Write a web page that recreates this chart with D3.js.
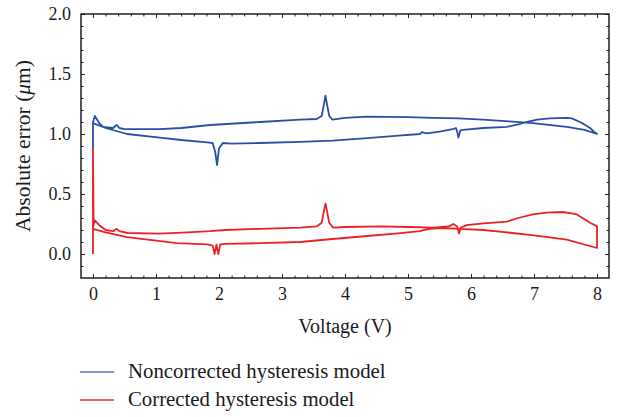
<!DOCTYPE html>
<html><head><meta charset="utf-8">
<script src="https://cdn.jsdelivr.net/npm/d3@7"></script>
<style>
body{margin:0;background:#fff}
svg text{font-family:"Liberation Serif","DejaVu Serif",serif;fill:#1a1a1a}
</style>
</head><body><svg id="chart" width="620" height="417"></svg>
<script>
// ---------- data ----------
const xTickValues = [0, 1, 2, 3, 4, 5, 6, 7, 8];
const yTickValues = [0.0, 0.5, 1.0, 1.5, 2.0];
const seriesNames = ["Noncorrected hysteresis model", "Corrected hysteresis model"];

// Noncorrected model: loop traced 0 V -> 8 V (upper branch) and back 8 V -> 0 V (lower branch)
const noncorrectedVoltage = [0,0,0.03,0.1,0.16,0.32,0.36,0.38,0.42,0.5,1.06,1.4,1.86,2.65,3.29,3.55,3.63,3.67,3.69,3.71,3.75,3.8,4.0,4.35,5.0,5.4,5.8,6.19,6.6,6.98,7.52,7.8,8.0,
  7.95,7.89,7.8,7.73,7.6,7.52,7.25,7.05,6.89,6.75,6.57,6.2,5.87,5.83,5.8,5.78,5.76,5.71,5.5,5.3,5.26,5.22,5.19,4.8,4.35,3.8,3.29,2.65,2.2,2.06,2.0,1.97,1.94,1.9,1.81,1.4,1.06,0.54,0.2,0.0];
const noncorrectedError = [0.87,1.1,1.15,1.09,1.06,1.05,1.07,1.075,1.05,1.04,1.04,1.05,1.075,1.10,1.12,1.125,1.15,1.26,1.32,1.26,1.15,1.12,1.135,1.145,1.14,1.135,1.13,1.12,1.105,1.09,1.06,1.035,1.0,
  1.02,1.05,1.08,1.10,1.13,1.135,1.13,1.12,1.10,1.08,1.06,1.05,1.035,1.03,0.97,1.02,1.05,1.04,1.02,1.005,1.01,1.015,1.0,0.985,0.965,0.945,0.935,0.925,0.92,0.925,0.88,0.74,0.85,0.925,0.93,0.95,0.97,1.0,1.05,1.09];

// Corrected model
const correctedVoltage = [0,0,0.01,0.03,0.1,0.2,0.32,0.36,0.38,0.42,0.55,1.06,1.5,1.86,2.1,2.65,3.29,3.55,3.63,3.67,3.69,3.71,3.75,3.81,4.0,4.6,5.0,5.4,5.65,5.72,5.78,5.81,5.84,5.93,6.2,6.57,6.75,6.98,7.2,7.46,7.68,7.89,8.0,8.0,
  7.52,7.0,6.57,6.2,5.83,5.5,5.35,5.25,5.19,4.8,4.35,3.8,3.29,2.65,2.1,2.02,1.99,1.96,1.93,1.9,1.81,1.33,0.54,0.2,0.0];
const correctedError = [0.0,0.87,0.24,0.28,0.24,0.2,0.19,0.205,0.21,0.19,0.175,0.17,0.18,0.19,0.2,0.21,0.22,0.23,0.26,0.37,0.42,0.37,0.26,0.22,0.225,0.23,0.225,0.22,0.23,0.25,0.23,0.17,0.22,0.24,0.255,0.27,0.3,0.33,0.345,0.35,0.33,0.26,0.23,0.05,
  0.12,0.155,0.18,0.2,0.21,0.215,0.21,0.2,0.19,0.17,0.15,0.125,0.10,0.09,0.085,0.08,0.0,0.08,0.0,0.07,0.08,0.09,0.14,0.18,0.21];

const colors = ["#2c4fa6", "#ec2128"];
const legendColors = ["#5b76bd", "#ee2a30"];

// ---------- layout ----------
const svg = d3.select("#chart");
const pLeft = 81, pRight = 609, pTop = 14, pBottom = 278;
const x = d3.scaleLinear().domain([-0.19, 8.19]).range([pLeft, pRight]);
const y = d3.scaleLinear().domain([-0.2, 2.0]).range([pBottom, pTop]);

const xMinor = d3.range(0, 8.01, 0.2).filter(v => Math.abs(v - Math.round(v)) > 1e-6);
const yMinor = d3.range(-0.1, 2.0, 0.1).filter(v => Math.abs(v*2 - Math.round(v*2)) > 1e-6);

function tickAxis(axisGen, transform){
  const g = svg.append("g").attr("transform", transform).call(axisGen);
  g.select(".domain").remove();
  g.selectAll("line").attr("stroke", "#222").attr("stroke-width", 1);
  return g;
}
tickAxis(d3.axisBottom(x).tickValues(xTickValues).tickSize(-4).tickFormat(""), `translate(0,${pBottom})`);
tickAxis(d3.axisBottom(x).tickValues(xMinor).tickSize(-2.5).tickFormat(""), `translate(0,${pBottom})`);
tickAxis(d3.axisTop(x).tickValues(xTickValues).tickSize(-4).tickFormat(""), `translate(0,${pTop})`);
tickAxis(d3.axisTop(x).tickValues(xMinor).tickSize(-2.5).tickFormat(""), `translate(0,${pTop})`);
tickAxis(d3.axisLeft(y).tickValues(yTickValues).tickSize(-4).tickFormat(""), `translate(${pLeft},0)`);
tickAxis(d3.axisLeft(y).tickValues(yMinor).tickSize(-2.5).tickFormat(""), `translate(${pLeft},0)`);
tickAxis(d3.axisRight(y).tickValues(yTickValues).tickSize(-4).tickFormat(""), `translate(${pRight},0)`);
tickAxis(d3.axisRight(y).tickValues(yMinor).tickSize(-2.5).tickFormat(""), `translate(${pRight},0)`);

// tick labels
const xl = svg.append("g").attr("transform", `translate(0,${pBottom})`)
  .call(d3.axisBottom(x).tickValues(xTickValues).tickSize(0).tickPadding(9).tickFormat(d3.format("d")));
xl.attr("font-family", "Liberation Serif");
xl.select(".domain").remove();
xl.selectAll("text").attr("font-size", 18).attr("fill", "#1a1a1a");
const yl = svg.append("g").attr("transform", `translate(${pLeft},0)`)
  .call(d3.axisLeft(y).tickValues(yTickValues).tickSize(0).tickPadding(10).tickFormat(d3.format(".1f")));
yl.attr("font-family", "Liberation Serif");
yl.select(".domain").remove();
yl.selectAll("text").attr("font-size", 18).attr("fill", "#1a1a1a");

// frame
svg.append("rect").attr("x", pLeft).attr("y", pTop).attr("width", pRight-pLeft).attr("height", pBottom-pTop)
  .attr("fill", "none").attr("stroke", "#111").attr("stroke-width", 1.4);

// lines
const line = d3.line().x(d => x(d[0])).y(d => y(d[1]));
const nonData = noncorrectedVoltage.map((v,i) => [v, noncorrectedError[i]]);
const corData = correctedVoltage.map((v,i) => [v, correctedError[i]]);
svg.append("path").datum(nonData).attr("d", line).attr("fill","none").attr("stroke", colors[0]).attr("stroke-width", 1.8).attr("stroke-linejoin","round");
svg.append("path").datum(corData).attr("d", line).attr("fill","none").attr("stroke", colors[1]).attr("stroke-width", 1.8).attr("stroke-linejoin","round");

// axis titles
svg.append("text").attr("x", (pLeft+pRight)/2).attr("y", 333).attr("text-anchor","middle").attr("font-size", 20).text("Voltage (V)");
const yt = svg.append("text").attr("transform", `translate(30,${(pTop+pBottom)/2}) rotate(-90)`).attr("text-anchor","middle").attr("font-size", 21.5);
yt.append("tspan").text("Absolute error (");
yt.append("tspan").attr("font-style","italic").text("μ");
yt.append("tspan").text("m)");

// legend
const lg = svg.append("g");
seriesNames.forEach((name, i) => {
  const yy = 372 + i*28;
  lg.append("line").attr("x1", 80).attr("x2", 114).attr("y1", yy).attr("y2", yy).attr("stroke", legendColors[i]).attr("stroke-width", 1.3);
  lg.append("text").attr("x", 128).attr("y", yy + 6).attr("font-size", 20.8).text(name);
});
</script>
</body></html>
